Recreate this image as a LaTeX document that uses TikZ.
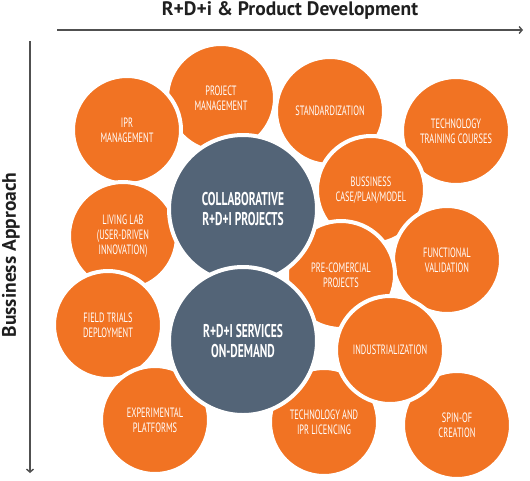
\documentclass[tikz,border=0pt]{standalone}
\usepackage{fontspec}
\setmainfont{PT Sans}
\newfontfamily\bubblefont[FakeStretch=0.62]{PT Sans}
\usetikzlibrary{arrows.meta}
\definecolor{bubbleorange}{RGB}{241,115,35}
\definecolor{coreblue}{RGB}{83,100,119}
\definecolor{axisgray}{RGB}{80,80,80}

\begin{document}
\begin{tikzpicture}[x=1pt,y=-1pt,>={Straight Barb[length=3pt,width=7pt]}]
\tikzstyle{bubble}=[circle,fill=bubbleorange,draw=white,line width=4pt,minimum size=108pt,inner sep=0pt,align=center,text=white,font=\bubblefont\fontsize{13.5}{15}\selectfont]
\tikzstyle{core}=[circle,fill=coreblue,draw=white,line width=4pt,minimum size=148pt,inner sep=0pt,align=center,text=white,font=\bubblefont\bfseries\fontsize{18.5}{20}\selectfont]
\useasboundingbox (0,0) rectangle (530,480);

% axes
\coordinate (hstart) at (57,30);
\coordinate (hend) at (523,30);
\coordinate (vstart) at (30,41);
\coordinate (vend) at (30,473);
\draw[->,axisgray,line width=1.4pt] (hstart) -- (hend);
\draw[->,axisgray,line width=1.4pt] (vstart) -- (vend);
\node[font=\bfseries\fontsize{19.5}{22}\selectfont,text=black!88] (title) at (290,10) {R+D+i \& Product Development};
\node[font=\bfseries\fontsize{19.5}{22}\selectfont,text=black!88,rotate=90] (side) at (11,255) {Bussiness Approach};

% outer bubbles, back to front
\node[bubble] (pm) at (221,98) {PROJECT\\MANAGEMENT};
\node[bubble] (ipr) at (127,130) {IPR\\MANAGEMENT};
\node[bubble] (std) at (330,111) {STANDARDIZATION};
\node[bubble] (ttc) at (456,131) {TECHNOLOGY\\TRAINING COURSES};
\node[bubble] (lab) at (123,236) {LIVING LAB\\(USER-DRIVEN\\INNOVATION)};
\node[bubble] (field) at (108,325) {FIELD TRIALS\\DEPLOYMENT};
\node[bubble] (exp) at (155,420) {EXPERIMENTAL\\PLATFORMS};
\node[bubble] (biz) at (371,190) {BUSSINESS\\CASE/PLAN/MODEL};
\node[bubble] (func) at (447,260) {FUNCTIONAL\\VALIDATION};
\node[bubble] (precom) at (341,275) {PRE-COMERCIAL\\PROJECTS};
\node[bubble] (lic) at (324,422) {TECHNOLOGY AND\\IPR LICENCING};
\node[bubble] (spin) at (457,425) {SPIN-OF\\CREATION};
\node[bubble] (ind) at (390,350) {INDUSTRIALIZATION};

% core bubbles
\node[core] (collab) at (243,209) {COLLABORATIVE\\R+D+I PROJECTS};
\node[core] (serv) at (243,341) {R+D+I SERVICES\\ON-DEMAND};
\end{tikzpicture}
\end{document}
